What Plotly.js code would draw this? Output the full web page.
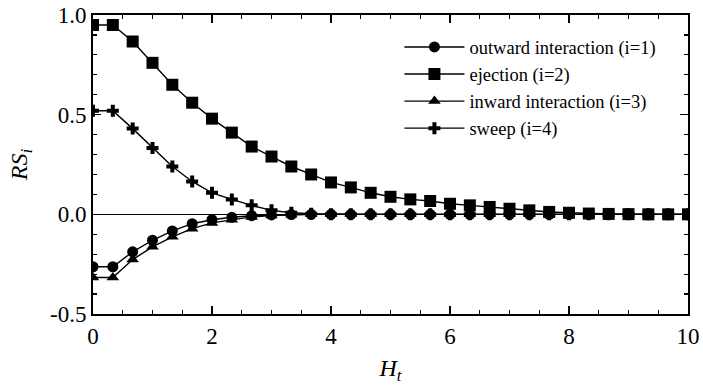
<!DOCTYPE html>
<html>
<head>
<meta charset="utf-8">
<script src="https://cdn.plot.ly/plotly-3.0.1.min.js"></script>
<style>html,body{margin:0;padding:0;background:#fff;}#chart{width:703px;height:386px;}</style>
</head>
<body>
<div id="chart"></div>
<script>
// x positions: H_t from 0 to 10 in steps of 1/3
var ht = [0,0.3333,0.6667,1,1.3333,1.6667,2,2.3333,2.6667,3,3.3333,3.6667,4,4.3333,4.6667,5,5.3333,5.6667,6,6.3333,6.6667,7,7.3333,7.6667,8,8.3333,8.6667,9,9.3333,9.6667,10];
var outward = [-0.263,-0.263,-0.188,-0.13,-0.083,-0.047,-0.027,-0.015,-0.007,-0.003,-0.001,0,0,0,0,0,0,0,0,0,0,0,0,0,0,0,0,0,0,0,0];
var ejection = [0.95,0.95,0.867,0.76,0.65,0.56,0.48,0.41,0.34,0.29,0.24,0.20,0.16,0.135,0.108,0.088,0.075,0.067,0.053,0.045,0.037,0.028,0.02,0.012,0.008,0.004,0.002,0.001,0,0,0];
var inward = [-0.317,-0.317,-0.227,-0.163,-0.113,-0.072,-0.043,-0.027,-0.013,-0.006,-0.002,0,0,0,0,0,0,0,0,0,0,0,0,0,0,0,0,0,0,0,0];
var sweep = [0.52,0.52,0.43,0.333,0.24,0.165,0.108,0.075,0.045,0.02,0.008,0.003,0.001,0,0,0,0,0,0,0,0,0,0,0,0,0,0,0,0,0,0];
var names = ['outward interaction (i=1)','ejection (i=2)','inward interaction (i=3)','sweep (i=4)'];
var xTicks = [0,2,4,6,8,10];
var yTicks = [-0.5,0,0.5,1.0];
var yTickText = ['-0.5','0.0','0.5','1.0'];

var serif = '"Liberation Serif", "Times New Roman", serif';
var common = {mode:'lines+markers', line:{color:'#000', width:1.4}};
var traces = [
  Object.assign({x:ht, y:outward, name:names[0], marker:{symbol:'circle', size:11, color:'#000'}}, common),
  Object.assign({x:ht, y:ejection, name:names[1], marker:{symbol:'square', size:12, color:'#000'}}, common),
  Object.assign({x:ht, y:inward, name:names[2], marker:{symbol:'triangle-up', size:11, color:'#000'}}, common),
  Object.assign({x:ht, y:sweep, name:names[3], marker:{symbol:'cross', size:10, color:'#000'}}, common)
];

var layout = {
  width:703, height:386,
  margin:{l:93, r:15, t:15, b:72},
  paper_bgcolor:'#fff', plot_bgcolor:'#fff',
  font:{family:serif, color:'#000', size:20},
  showlegend:true,
  legend:{x:0.515, y:0.955, xanchor:'left', yanchor:'top', bgcolor:'rgba(0,0,0,0)', font:{size:18.5, family:serif}, itemwidth:60},
  xaxis:{range:[0,10], tickvals:xTicks, ticks:'inside', ticklen:8, tickwidth:1.5, tickcolor:'#000',
         showline:true, linecolor:'#000', linewidth:2, mirror:'allticks', showgrid:false, zeroline:false,
         minor:{dtick:0.5, ticks:'inside', ticklen:4, tickwidth:1.2, tickcolor:'#000', showgrid:false},
         tickfont:{size:23, family:serif}, title:{text:'<i>H</i><sub><i>t</i></sub>', font:{size:24, family:serif}, standoff:12}},
  yaxis:{range:[-0.5,1.0], tickvals:yTicks, ticktext:yTickText, ticks:'inside', ticklen:8, tickwidth:1.5, tickcolor:'#000',
         showline:true, linecolor:'#000', linewidth:2, mirror:'allticks', showgrid:false,
         zeroline:true, zerolinecolor:'#000', zerolinewidth:1.5,
         minor:{dtick:0.1, ticks:'inside', ticklen:4, tickwidth:1.2, tickcolor:'#000', showgrid:false},
         tickfont:{size:23, family:serif}, title:{text:'<i>RS</i><sub><i>i</i></sub>', font:{size:24, family:serif}, standoff:16}}
};
Plotly.newPlot('chart', traces, layout, {displayModeBar:false, staticPlot:true});
</script>
</body>
</html>
